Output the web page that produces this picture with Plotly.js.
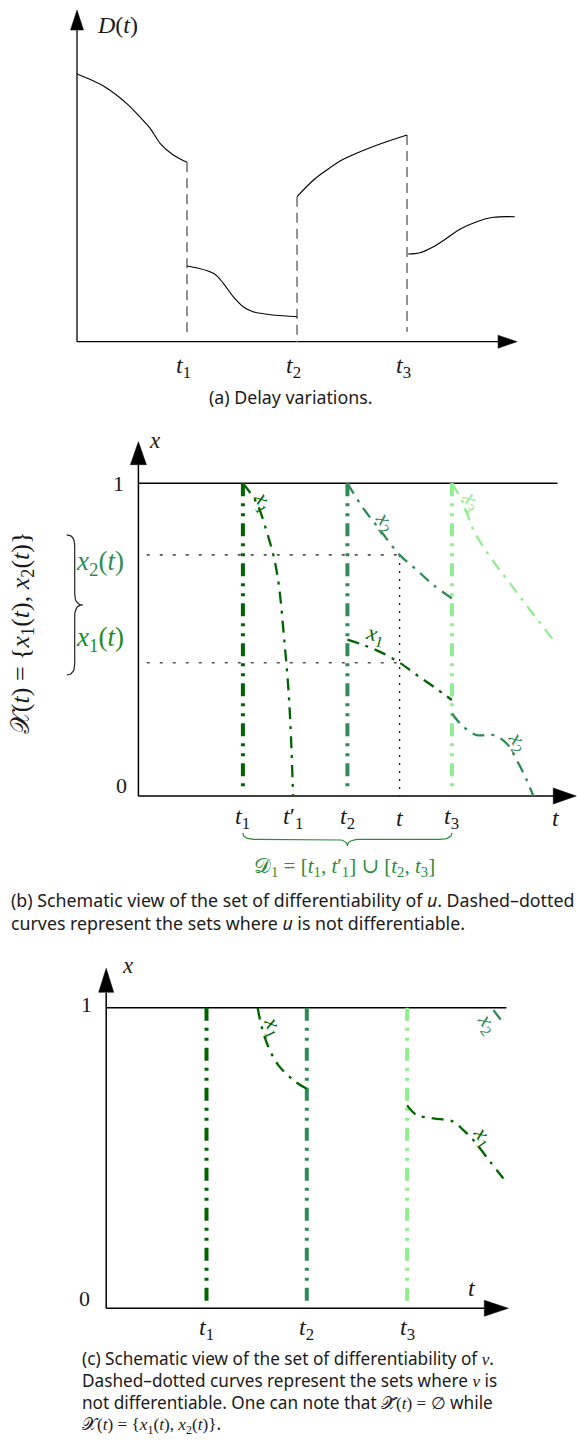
<!DOCTYPE html>
<html><head><meta charset="utf-8">
<script src="https://cdn.plot.ly/plotly-3.0.1.min.js"></script>
<style>body{margin:0;background:#fff}</style>
</head><body><div id="chart" style="width:577px;height:1440px"></div>
<script>
// ---------- Panel (a): delay variations D(t) ----------
const aSwitchT = [1, 2, 3];
const aSwitchTop = [1.794, 1.45, 2.067];
const aSwitchBottom = [0.07, 0.0, 0.1];
const aSeg1T = [0, 0.24, 0.45, 0.57, 0.665, 0.755, 0.875, 1.0];
const aSeg1D = [2.677, 2.557, 2.384, 2.25, 2.134, 1.984, 1.867, 1.794];
const aSeg2T = [1.0, 1.24, 1.33, 1.42, 1.51, 1.60, 1.785, 2.0];
const aSeg2D = [0.757, 0.684, 0.584, 0.45, 0.35, 0.30, 0.267, 0.25];
const aSeg3T = [2.0, 2.15, 2.27, 2.42, 2.573, 2.755, 3.0];
const aSeg3D = [1.45, 1.617, 1.717, 1.824, 1.9, 1.977, 2.067];
const aSeg4T = [3.01, 3.118, 3.24, 3.36, 3.48, 3.634, 3.785, 3.98];
const aSeg4D = [0.877, 0.89, 0.95, 1.034, 1.124, 1.2, 1.244, 1.25];
const aTickText = ['<i>t</i><sub>1</sub>', '<i>t</i><sub>2</sub>', '<i>t</i><sub>3</sub>'];

// ---------- Panel (b): differentiability set of u ----------
const bSwitchT = [1, 2, 3];
const bX1aT = [1.0, 1.132, 1.228, 1.298, 1.346, 1.393, 1.434, 1.460, 1.48];
const bX1aX = [1.0, 0.937, 0.845, 0.761, 0.669, 0.509, 0.349, 0.189, 0.0];
const bX2aT = [2.0, 2.152, 2.312, 2.5, 2.663, 2.822, 3.0];
const bX2aX = [1.0, 0.92, 0.851, 0.771, 0.723, 0.675, 0.632];
const bX1bT = [2.0, 2.152, 2.312, 2.5, 2.663, 2.822, 3.0];
const bX1bX = [0.5, 0.483, 0.461, 0.426, 0.387, 0.35, 0.307];
const bX2bT = [3.0, 3.109, 3.237, 3.396, 3.524, 3.62, 3.716, 3.779];
const bX2bX = [0.264, 0.222, 0.195, 0.195, 0.168, 0.115, 0.051, 0.0];
const bX3T = [3.0, 3.109, 3.205, 3.365, 3.556, 3.748, 3.97];
const bX3X = [1.0, 0.936, 0.851, 0.765, 0.68, 0.595, 0.499];
const bCurrentT = 2.5;
const bCurrentX = [0.426, 0.771];
const bTickT = [1, 1.48, 2, 2.5, 3];
const bTickText = ['<i>t</i><sub>1</sub>', '<i>t</i>′<sub>1</sub>', '<i>t</i><sub>2</sub>', '<i>t</i>', '<i>t</i><sub>3</sub>'];

// ---------- Panel (c): differentiability set of v ----------
const cSwitchT = [1, 2, 3];
const cX1aT = [1.51, 1.55, 1.616, 1.716, 1.866, 2.0];
const cX1aX = [1.0, 0.937, 0.870, 0.809, 0.759, 0.73];
const cX1bT = [3.0, 3.096, 3.261, 3.461, 3.56, 3.66, 3.827, 3.96];
const cX1bX = [0.675, 0.643, 0.632, 0.621, 0.593, 0.56, 0.488, 0.432];
const cX2T = [3.86, 3.976];
const cX2X = [0.992, 0.942];
const cTickText = ['<i>t</i><sub>1</sub>', '<i>t</i><sub>2</sub>', '<i>t</i><sub>3</sub>'];

// ---------- styles ----------
const DG = '#006400', SG = '#2e8b57', LG = '#90ee90';
const switchColors = [DG, SG, LG];
const SERIF = 'Liberation Serif, DejaVu Serif, serif';
const SANS = 'Noto Sans, Lato, sans-serif';
const INK = '#1a1a1a';
const CAP = 17.8;
const P = {
  a: {xa: 'x', ya: 'y', sx: 110, sy: 100},
  b: {xa: 'x2', ya: 'y2', sx: 104.5, sy: 312.7},
  c: {xa: 'x3', ya: 'y3', sx: 100.3, sy: 300.6}
};
const traces = [];
function line(p, x, y, color, width, dash, shape) {
  traces.push({x: x, y: y, mode: 'lines', xaxis: p.xa, yaxis: p.ya, hoverinfo: 'skip',
    line: {color: color, width: width, dash: dash || 'solid', shape: shape || 'linear', smoothing: 1}});
}
function arrowUp(p, t, v, w, h) {
  const dx = w / 2 / p.sx, dy = h / p.sy;
  traces.push({x: [t - dx, t + dx, t, t - dx], y: [v - dy, v - dy, v, v - dy], mode: 'lines', fill: 'toself',
    fillcolor: '#000', line: {width: 0.5, color: '#000'}, xaxis: p.xa, yaxis: p.ya, hoverinfo: 'skip'});
}
function arrowRight(p, t, v, w, h) {
  const dx = h / p.sx, dy = w / 2 / p.sy;
  traces.push({x: [t - dx, t - dx, t, t - dx], y: [v - dy, v + dy, v, v - dy], mode: 'lines', fill: 'toself',
    fillcolor: '#000', line: {width: 0.5, color: '#000'}, xaxis: p.xa, yaxis: p.ya, hoverinfo: 'skip'});
}
// curly brace between two points (data units), depth in px
function brace(p, t0, v0, t1, v1, depthPx, rPx, dir, color, width) {
  const X0 = t0 * p.sx, Y0 = v0 * p.sy, X1 = t1 * p.sx, Y1 = v1 * p.sy;
  const L = Math.hypot(X1 - X0, Y1 - Y0);
  const ux = (X1 - X0) / L, uy = (Y1 - Y0) / L;
  const nx = -uy * dir, ny = ux * dir;
  const d = depthPx, r = rPx;
  const pts = [];
  function q(a, c, b) { for (let i = 0; i <= 10; i++) { const s = i / 10;
    pts.push([(1-s)*(1-s)*a[0] + 2*(1-s)*s*c[0] + s*s*b[0], (1-s)*(1-s)*a[1] + 2*(1-s)*s*c[1] + s*s*b[1]]); } }
  q([0, 0], [0, d / 2], [r, d / 2]);
  q([L / 2 - r, d / 2], [L / 2, d / 2], [L / 2, d]);
  q([L / 2, d], [L / 2, d / 2], [L / 2 + r, d / 2]);
  q([L - r, d / 2], [L, d / 2], [L, 0]);
  const xs = [], ys = [];
  pts.forEach(function (pp) {
    xs.push((X0 + ux * pp[0] + nx * pp[1]) / p.sx);
    ys.push((Y0 + uy * pp[0] + ny * pp[1]) / p.sy);
  });
  line(p, xs, ys, color, width);
}

// ---------- Panel (a) traces ----------
line(P.a, [0, 0], [0, 3.15], '#000', 1.3);
line(P.a, [0, 3.85], [0, 0], '#000', 1.3);
arrowUp(P.a, 0, 3.317, 13, 20);
arrowRight(P.a, 4.0, 0, 13, 19);
for (let i = 0; i < aSwitchT.length; i++) {
  line(P.a, [aSwitchT[i], aSwitchT[i]], [aSwitchTop[i], aSwitchBottom[i]], '#777', 1.6, '10px,6px');
}
[[aSeg1T, aSeg1D], [aSeg2T, aSeg2D], [aSeg3T, aSeg3D], [aSeg4T, aSeg4D]].forEach(function (s) {
  line(P.a, s[0], s[1], '#000', 1.1, 'solid', 'spline');
});

// ---------- Panel (b) traces ----------
line(P.b, [0, 0], [0, 1.06], '#000', 1.5);
line(P.b, [0, 3.98], [0, 0], '#000', 1.5);
arrowUp(P.b, 0, 1.133, 16, 23);
arrowRight(P.b, 4.19, 0, 16, 23);
line(P.b, [0, 4.01], [1, 1], '#000', 1.4);
for (let k = 0; k < bCurrentX.length; k++) {
  line(P.b, [0.08, bCurrentT], [bCurrentX[k], bCurrentX[k]], '#555', 1.6, '3px,10px');
}
line(P.b, [bCurrentT, bCurrentT], [bCurrentX[1], 0], '#111', 1.2, '2px,6px');
for (let i = 0; i < bSwitchT.length; i++) {
  line(P.b, [bSwitchT[i], bSwitchT[i]], [1, 0.025], switchColors[i], 4, '13px,7px,3px,7px,3px,7px');
}
const curveDash = '12px,7px,3px,7px';
line(P.b, bX1aT, bX1aX, DG, 2.3, curveDash, 'spline');
line(P.b, bX2aT, bX2aX, SG, 2.3, curveDash, 'spline');
line(P.b, bX1bT, bX1bX, DG, 2.3, curveDash, 'spline');
line(P.b, bX2bT, bX2bX, SG, 2.3, curveDash, 'spline');
line(P.b, bX3T, bX3X, LG, 2.3, curveDash, 'spline');
brace(P.b, -0.686, 0.835, -0.686, 0.387, 16, 11, 1, '#222', 1.2);
brace(P.b, 1, -0.118, 3, -0.118, 13, 13, -1, '#2e8b3a', 1.2);

// ---------- Panel (c) traces ----------
line(P.c, [0, 0], [0, 1.05], '#000', 1.5);
line(P.c, [0, 3.78], [0, 0], '#000', 1.5);
arrowUp(P.c, 0, 1.131, 15, 24);
arrowRight(P.c, 4.009, 0, 16, 24);
line(P.c, [0, 3.99], [1, 1], '#000', 1.4);
for (let i = 0; i < cSwitchT.length; i++) {
  line(P.c, [cSwitchT[i], cSwitchT[i]], [1, 0.022], switchColors[i], 4, '13px,7px,3px,7px,3px,7px');
}
line(P.c, cX1aT, cX1aX, DG, 2.3, curveDash, 'spline');
line(P.c, cX1bT, cX1bX, DG, 2.3, curveDash, 'spline');
line(P.c, cX2T, cX2X, SG, 2.3, curveDash, 'spline');

// ---------- annotations ----------
const anns = [];
function ann(p, t, v, text, o) {
  o = o || {};
  anns.push(Object.assign({xref: p.xa, yref: p.ya, x: t, y: v, text: text, showarrow: false,
    xanchor: 'center', yanchor: 'middle', font: {family: SERIF, size: 24, color: INK}}, o));
}
function cap(px, py, text, size) {
  anns.push({xref: 'paper', yref: 'paper', x: px / 577, y: 1 - py / 1440, text: text, showarrow: false,
    xanchor: 'left', yanchor: 'middle', font: {family: SANS, size: size || CAP, color: INK}});
}
const f = function (s, c) { return {family: SERIF, size: s, color: c || INK}; };
// (a)
ann(P.a, 0.164, 3.167, '<i>D</i>(<i>t</i>)', {xanchor: 'left', font: f(24)});
for (let i = 0; i < aSwitchT.length; i++) ann(P.a, aSwitchT[i], 0, aTickText[i], {yshift: -25, xshift: -4});
anns.push({xref: 'paper', yref: 'paper', x: 290 / 577, y: 1 - 397 / 1440, text: '(a) Delay variations.',
  showarrow: false, xanchor: 'center', yanchor: 'middle', font: {family: SANS, size: CAP, color: INK}});
// (b)
ann(P.b, 0.155, 1.138, '<i>x</i>', {font: f(23)});
ann(P.b, -0.19, 1.0, '1', {font: f(22)});
ann(P.b, -0.162, 0.033, '0', {font: f(22)});
for (let i = 0; i < bTickT.length; i++) ann(P.b, bTickT[i], 0, bTickText[i], {yshift: -22});
ann(P.b, 3.994, 0, '<i>t</i>', {yshift: -22});
ann(P.b, -0.3665, 0.744, '<i>x</i><sub>2</sub>(<i>t</i>)', {font: f(27, SG)});
ann(P.b, -0.3665, 0.501, '<i>x</i><sub>1</sub>(<i>t</i>)', {font: f(27, '#228b22')});
ann(P.b, -1.113, 0.521, '𝒳(<i>t</i>) = {<i>x</i><sub>1</sub>(<i>t</i>), <i>x</i><sub>2</sub>(<i>t</i>)}',
  {textangle: -90, font: f(26)});
ann(P.b, 1.968, -0.226, '𝒟<sub>1</sub> = [<i>t</i><sub>1</sub>, <i>t</i>′<sub>1</sub>] ∪ [<i>t</i><sub>2</sub>, <i>t</i><sub>3</sub>]',
  {font: f(21, '#2e8b3a')});
ann(P.b, 1.195, 0.941, '<i>x</i><sub>1</sub>', {textangle: 60, font: f(22, DG)});
ann(P.b, 2.36, 0.877, '<i>x</i><sub>2</sub>', {textangle: 52, font: f(22, SG)});
ann(P.b, 3.19, 0.941, '<i>x</i><sub>3</sub>', {textangle: 60, font: f(22, LG)});
ann(P.b, 2.264, 0.515, '<i>x</i><sub>1</sub>', {textangle: 15, font: f(22, DG)});
ann(P.b, 3.635, 0.174, '<i>x</i><sub>2</sub>', {textangle: 55, font: f(22, SG)});
cap(9, 900, '(b) Schematic view of the set of differentiability of <i>u</i>. Dashed–dotted');
cap(9, 923, 'curves represent the sets where <i>u</i> is not differentiable.');
// (c)
ann(P.c, 0.22, 1.139, '<i>x</i>', {font: f(23)});
ann(P.c, -0.194, 1.009, '1', {font: f(22)});
ann(P.c, -0.221, 0.033, '0', {font: f(22)});
ann(P.c, 3.644, 0.0665, '<i>t</i>');
for (let i = 0; i < cSwitchT.length; i++) ann(P.c, cSwitchT[i], 0, cTickText[i], {yshift: -21});
ann(P.c, 1.666, 0.937, '<i>x</i><sub>1</sub>', {textangle: 65, font: f(22, DG)});
ann(P.c, 3.76, 0.571, '<i>x</i><sub>1</sub>', {textangle: 55, font: f(22, DG)});
ann(P.c, 3.793, 0.948, '<i>x</i><sub>2</sub>', {textangle: 55, font: f(22, SG)});
const sv = '<span style="font-family:Liberation Serif"><i>v</i></span>';
const CAPC = 17.2;
cap(80, 1358, '(c) Schematic view of the set of differentiability of ' + sv + '.', CAPC);
cap(80, 1380, 'Dashed–dotted curves represent the sets where ' + sv + ' is', CAPC);
cap(80, 1402, 'not differentiable. One can note that <span style="font-family:Liberation Serif">𝒳̃(<i>t</i>) = ∅</span> while', CAPC);
cap(80, 1424, '<span style="font-family:Liberation Serif">𝒳(<i>t</i>) = {<i>x</i><sub>1</sub>(<i>t</i>), <i>x</i><sub>2</sub>(<i>t</i>)}</span>.', CAPC);

const ax = function (dom, rng, anchor) {
  return {domain: dom, range: rng, anchor: anchor, visible: false, showgrid: false, zeroline: false, fixedrange: true};
};
const layout = {
  width: 577, height: 1440, margin: {l: 0, r: 0, t: 0, b: 0},
  paper_bgcolor: '#fff', plot_bgcolor: 'rgba(0,0,0,0)', showlegend: false,
  xaxis: ax([0, 1], [-0.7, 4.545], 'y'),
  yaxis: ax([1 - 420 / 1440, 1], [-0.783, 3.417], 'x'),
  xaxis2: ax([0, 1], [-1.3244, 4.1971], 'y2'),
  yaxis2: ax([1 - 940 / 1440, 1 - 420 / 1440], [-0.4605, 1.2024], 'x2'),
  xaxis3: ax([0, 1], [-1.0588, 4.6939], 'y3'),
  yaxis3: ax([0, 1 - 940 / 1440], [-0.4381, 1.2252], 'x3'),
  annotations: anns
};
Plotly.newPlot('chart', traces, layout, {displayModeBar: false, staticPlot: true});
</script></body></html>
